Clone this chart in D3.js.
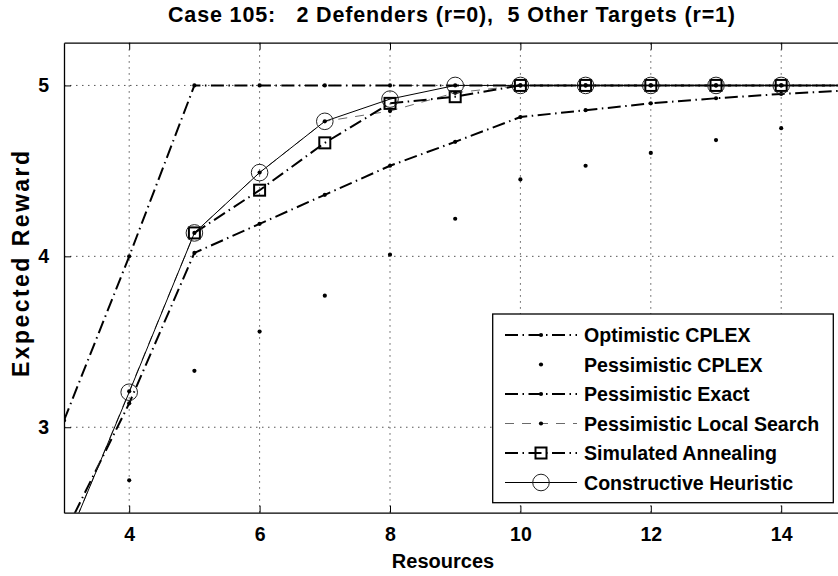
<!DOCTYPE html>
<html>
<head>
<meta charset="utf-8">
<script src="https://cdn.jsdelivr.net/npm/d3@7"></script>
<style>
  body { margin: 0; background: #fff; }
  text { font-family: "Liberation Sans", Arial, sans-serif; font-weight: bold; fill: #000; }
</style>
</head>
<body>
<div id="chart"></div>
<script>
// data, x = resources 3..15
var resources = [3, 4, 5, 6, 7, 8, 9, 10, 11, 12, 13, 14, 15];
var optimisticCplex  = [3.04, 4.00, 5.00, 5.00, 5.00, 5.00, 5.00, 5.00, 5.00, 5.00, 5.00, 5.00, 5.00];
var pessimisticCplex = [null, 2.69, 3.33, 3.56, 3.77, 4.01, 4.22, 4.45, 4.53, 4.605, 4.68, 4.75, 4.80];
var pessimisticExact = [2.37, 3.14, 4.02, 4.19, 4.36, 4.53, 4.67, 4.815, 4.855, 4.895, 4.925, 4.95, 4.97];
var localSearch      = [2.29, 3.21, 4.137, 4.49, 4.79, 4.85, 4.957, 5.00, 5.00, 5.00, 5.00, 5.00, 5.00];
var simAnnealing     = [null, null, 4.137, 4.387, 4.664, 4.895, 4.934, 5.00, 5.00, 5.00, 5.00, 5.00, 5.00];
var constructive     = [2.29, 3.205, 4.137, 4.49, 4.79, 4.92, 5.00, 5.00, 5.00, 5.00, 5.00, 5.00, 5.00];

var xTicks = [4, 6, 8, 10, 12, 14];
var yTicks = [3, 4, 5];
var titleText = "Case 105:   2 Defenders (r=0),  5 Other Targets (r=1)";
var legendNames = ["Optimistic CPLEX", "Pessimistic CPLEX", "Pessimistic Exact",
                   "Pessimistic Local Search", "Simulated Annealing", "Constructive Heuristic"];

var width = 838, height = 576;
var margin = {top: 42.7, left: 64, bottom: 63.3};
var dashDot = "13,4.5,1.5,4.5";

var svg = d3.select("#chart")
  .append("svg")
    .attr("width", width)
    .attr("height", height);

var x = d3.scaleLinear()
  .domain([3, 15])
  .range([margin.left, margin.left + 12 * 65.2]);

var y = d3.scaleLinear()
  .domain([2.5, 5.25])
  .range([height - margin.bottom, margin.top]);

svg.append("clipPath")
  .attr("id", "plotclip")
  .append("rect")
    .attr("x", x(3))
    .attr("y", y(5.25))
    .attr("width", x(15) - x(3))
    .attr("height", y(2.5) - y(5.25));

// grid
var grid = svg.append("g");
grid.selectAll(".gx")
  .data(xTicks)
  .enter().append("line")
    .attr("x1", function(d) { return x(d); })
    .attr("x2", function(d) { return x(d); })
    .attr("y1", y(2.5))
    .attr("y2", y(5.25))
    .attr("stroke", "#555")
    .attr("stroke-width", 1)
    .attr("stroke-dasharray", "1.5,4.5");
grid.selectAll(".gy")
  .data(yTicks)
  .enter().append("line")
    .attr("x1", x(3))
    .attr("x2", x(15))
    .attr("y1", function(d) { return y(d); })
    .attr("y2", function(d) { return y(d); })
    .attr("stroke", "#555")
    .attr("stroke-width", 1)
    .attr("stroke-dasharray", "1.5,4.5");

// axes (matlab style box with inward ticks)
var xAx = svg.append("g")
  .attr("transform", "translate(0," + y(2.5) + ")")
  .call(d3.axisBottom(x).tickValues(xTicks).tickFormat(d3.format("d")).tickSizeInner(-7).tickSizeOuter(0).tickPadding(14));
var xAxTop = svg.append("g")
  .attr("transform", "translate(0," + y(5.25) + ")")
  .call(d3.axisTop(x).tickValues(xTicks).tickSizeInner(-7).tickSizeOuter(0).tickFormat(""));
var yAx = svg.append("g")
  .attr("transform", "translate(" + x(3) + ",0)")
  .call(d3.axisLeft(y).tickValues(yTicks).tickFormat(d3.format("d")).tickSizeInner(-7).tickSizeOuter(0).tickPadding(15));

[xAx, xAxTop, yAx].forEach(function(a) {
  a.attr("font-size", null).attr("font-family", null);
  a.select(".domain").attr("stroke", "#000").attr("stroke-width", 1.3);
  a.selectAll(".tick line").attr("stroke", "#000");
  a.selectAll("text").style("font-size", "19.5px");
});

var plot = svg.append("g").attr("clip-path", "url(#plotclip)");

function pts(vals) {
  return resources.map(function(r, i) { return [r, vals[i]]; });
}
var line = d3.line()
  .defined(function(d) { return d[1] != null; })
  .x(function(d) { return x(d[0]); })
  .y(function(d) { return y(d[1]); });

var series = [
  {vals: optimisticCplex, stroke: "#000", width: 2, dash: dashDot, marker: "dot"},
  {vals: pessimisticCplex, stroke: "none", width: 0, dash: null, marker: "dot"},
  {vals: pessimisticExact, stroke: "#000", width: 2, dash: dashDot, marker: "dot"},
  {vals: localSearch, stroke: "#6a6a6a", width: 1, dash: "9,8", marker: "dot"},
  {vals: simAnnealing, stroke: "#000", width: 2, dash: dashDot, marker: "square"},
  {vals: constructive, stroke: "#000", width: 1, dash: null, marker: "circle"}
];

function drawMarker(g, kind, cx, cy) {
  if (kind == "dot") {
    g.append("circle").attr("cx", cx).attr("cy", cy).attr("r", 2.1).attr("fill", "#000");
  } else if (kind == "square") {
    g.append("rect").attr("x", cx - 5.5).attr("y", cy - 5.5).attr("width", 11).attr("height", 11)
      .attr("fill", "none").attr("stroke", "#000").attr("stroke-width", 2);
  } else {
    g.append("circle").attr("cx", cx).attr("cy", cy).attr("r", 8.3)
      .attr("fill", "none").attr("stroke", "#222").attr("stroke-width", 1);
  }
}

series.forEach(function(s) {
  var data = pts(s.vals);
  if (s.stroke != "none") {
    plot.append("path")
      .datum(data)
      .attr("fill", "none")
      .attr("stroke", s.stroke)
      .attr("stroke-width", s.width)
      .attr("stroke-dasharray", s.dash)
      .attr("d", line);
  }
  data.forEach(function(d) {
    if (d[1] != null) drawMarker(plot, s.marker, x(d[0]), y(d[1]));
  });
});

// title and labels
svg.append("text")
  .attr("x", 168)
  .attr("y", 22)
  .attr("textLength", 567)
  .attr("lengthAdjust", "spacing")
  .style("font-size", "21.5px")
  .style("white-space", "pre")
  .text(titleText);

svg.append("text")
  .attr("x", 443)
  .attr("y", 568)
  .attr("text-anchor", "middle")
  .style("font-size", "20px")
  .text("Resources");

svg.append("text")
  .attr("transform", "translate(29,264) rotate(-90)")
  .attr("text-anchor", "middle")
  .attr("textLength", 226)
  .attr("lengthAdjust", "spacing")
  .style("font-size", "23px")
  .text("Expected Reward");

// legend
var leg = svg.append("g");
leg.append("rect")
  .attr("x", 492.7)
  .attr("y", 314)
  .attr("width", 340.6)
  .attr("height", 188.7)
  .attr("fill", "#fff")
  .attr("stroke", "#000")
  .attr("stroke-width", 1.3);

series.forEach(function(s, i) {
  var ly = 335 + i * 29.5;
  if (s.stroke != "none") {
    leg.append("line")
      .attr("x1", 505).attr("x2", 577)
      .attr("y1", ly).attr("y2", ly)
      .attr("stroke", s.stroke)
      .attr("stroke-width", s.width)
      .attr("stroke-dasharray", s.dash);
  }
  drawMarker(leg, s.marker, 541, ly);
  leg.append("text")
    .attr("x", 584)
    .attr("y", ly + 7)
    .style("font-size", "19.6px")
    .text(legendNames[i]);
});
</script>
</body>
</html>
